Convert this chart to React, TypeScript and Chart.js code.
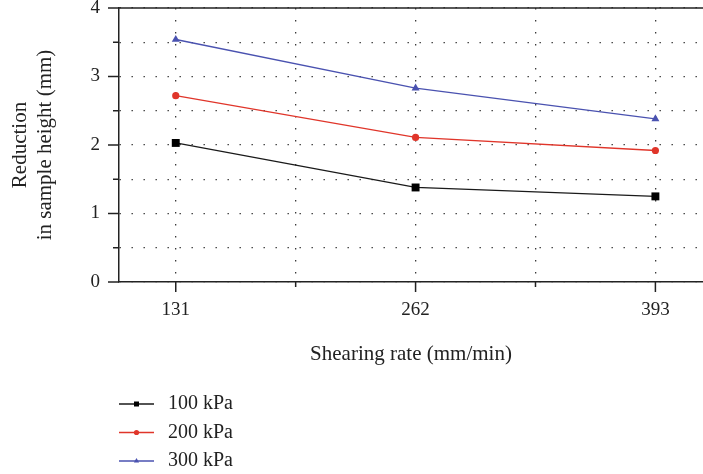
import React, { useEffect, useRef } from 'react';
import { Chart, registerables } from 'chart.js';

Chart.register(...registerables);

// ---- data ----
const shearRates = [131, 262, 393];
const load100 = [2.03, 1.38, 1.25];
const load200 = [2.72, 2.11, 1.92];
const load300 = [3.54, 2.83, 2.38];
const seriesLabels = ['100 kPa', '200 kPa', '300 kPa'];
const xTickValues = [131, 196.5, 262, 327.5, 393];
const xLabelValues = [131, 262, 393];

const FONT = '"Liberation Serif", "Times New Roman", serif';
const INK = '#222222';

const drawMarker = (ctx: CanvasRenderingContext2D, style: string, x: number, y: number, r: number) => {
  ctx.beginPath();
  if (style === 'rect') {
    ctx.rect(x - r, y - r, 2 * r, 2 * r);
  } else if (style === 'triangle') {
    ctx.moveTo(x, y - r * 1.15);
    ctx.lineTo(x + r, y + r * 0.6);
    ctx.lineTo(x - r, y + r * 0.6);
    ctx.closePath();
  } else {
    ctx.arc(x, y, r, 0, Math.PI * 2);
  }
  ctx.fill();
};

const decorPlugin = {
  id: 'decor',
  afterDraw(chart: any) {
    const ctx: CanvasRenderingContext2D = chart.ctx;
    const { left, right, top, bottom } = chart.chartArea;
    const xs = chart.scales.x;
    const ys = chart.scales.y;
    ctx.save();
    ctx.strokeStyle = INK;
    ctx.lineWidth = 1.5;
    ctx.setLineDash([]);
    // top frame line
    ctx.beginPath();
    ctx.moveTo(left, top);
    ctx.lineTo(right, top);
    ctx.stroke();
    // x tick marks (outward)
    xs.ticks.forEach((t: any) => {
      const px = xs.getPixelForValue(t.value);
      const len = xLabelValues.includes(t.value) ? 10 : 5;
      ctx.beginPath();
      ctx.moveTo(px, bottom);
      ctx.lineTo(px, bottom + len);
      ctx.stroke();
    });
    // y tick marks (outward)
    ys.ticks.forEach((t: any) => {
      const py = ys.getPixelForValue(t.value);
      const len = Number.isInteger(t.value) ? 11 : 6;
      ctx.beginPath();
      ctx.moveTo(left, py);
      ctx.lineTo(left - len, py);
      ctx.stroke();
    });
    // legend
    const lx0 = left;
    const lx1 = left + 35;
    const tx = left + 49;
    const y0 = 404;
    const dy = 28.5;
    chart.data.datasets.forEach((ds: any, i: number) => {
      const y = y0 + i * dy;
      ctx.strokeStyle = ds.borderColor;
      ctx.fillStyle = ds.backgroundColor;
      ctx.lineWidth = 1.3;
      ctx.beginPath();
      ctx.moveTo(lx0, y);
      ctx.lineTo(lx1, y);
      ctx.stroke();
      drawMarker(ctx, ds.pointStyle, (lx0 + lx1) / 2, y, ds.pointStyle === 'rect' ? 2.5 : 2.6);
      ctx.fillStyle = INK;
      ctx.font = `20px ${FONT}`;
      ctx.textAlign = 'left';
      ctx.textBaseline = 'middle';
      ctx.fillText(ds.label, tx, y);
    });
    ctx.restore();
  },
};

const toPoints = (ys: number[]) => shearRates.map((x, i) => ({ x, y: ys[i] }));

export default function App() {
  const ref = useRef<HTMLCanvasElement | null>(null);

  useEffect(() => {
    if (!ref.current) return;
    const gridCommon = {
      color: '#3a3a3a',
      lineWidth: 1.3,
      drawTicks: false,
    };
    const borderCommon = {
      display: true,
      color: INK,
      width: 1.5,
      dash: [1.4, 10.6],
    };
    const chart = new Chart(ref.current, {
      type: 'line',
      data: {
        datasets: [
          {
            label: seriesLabels[0],
            data: toPoints(load100),
            borderColor: '#1a1a1a',
            backgroundColor: '#000000',
            pointBorderColor: '#000000',
            pointStyle: 'rect',
            pointRadius: 5.6,
            pointBorderWidth: 0,
            borderWidth: 1.3,
          },
          {
            label: seriesLabels[1],
            data: toPoints(load200),
            borderColor: '#e0352a',
            backgroundColor: '#e0352a',
            pointBorderColor: '#e0352a',
            pointStyle: 'circle',
            pointRadius: 3.6,
            pointBorderWidth: 0,
            borderWidth: 1.3,
          },
          {
            label: seriesLabels[2],
            data: toPoints(load300),
            borderColor: '#4a52b0',
            backgroundColor: '#4a52b0',
            pointBorderColor: '#4a52b0',
            pointStyle: 'triangle',
            pointRadius: 4.6,
            pointBorderWidth: 0,
            borderWidth: 1.3,
          },
        ],
      },
      options: {
        responsive: false,
        animation: false,
        layout: { autoPadding: false, padding: { left: 0, right: 0, top: 8, bottom: 104 } },
        plugins: {
          legend: { display: false },
          tooltip: { enabled: false },
        },
        scales: {
          x: {
            type: 'linear',
            min: 100,
            max: 419,
            afterBuildTicks: (s: any) => {
              s.ticks = xTickValues.map((v) => ({ value: v }));
            },
            afterFit: (s: any) => {
              s.height = 88;
              s.paddingLeft = 0;
              s.paddingRight = 0;
            },
            ticks: {
              autoSkip: false,
              maxRotation: 0,
              padding: 17,
              color: INK,
              font: { family: FONT, size: 19 },
              callback: (v: any) => (xLabelValues.includes(Number(v)) ? String(v) : ''),
            },
            grid: gridCommon,
            border: borderCommon,
            title: {
              display: true,
              text: 'Shearing rate (mm/min)',
              color: INK,
              font: { family: FONT, size: 21, lineHeight: 1.2 },
              padding: { top: 0, bottom: 3 },
            },
          },
          y: {
            type: 'linear',
            min: 0,
            max: 4,
            afterFit: (s: any) => {
              s.width = 119;
              s.paddingTop = 0;
              s.paddingBottom = 0;
            },
            ticks: {
              stepSize: 0.5,
              padding: 19,
              color: INK,
              font: { family: FONT, size: 19 },
              callback: (v: any) => (Number.isInteger(Number(v)) ? String(v) : ''),
            },
            grid: gridCommon,
            border: borderCommon,
            title: {
              display: true,
              text: ['Reduction', 'in sample height (mm)'],
              color: INK,
              font: { family: FONT, size: 21, lineHeight: 1.19 },
              padding: { top: 7.5, bottom: 0 },
            },
          },
        },
      },
      plugins: [decorPlugin],
    } as any);
    return () => chart.destroy();
  }, []);

  return (
    <div style={{ position: 'fixed', left: 0, top: 0, width: 703, height: 474, background: '#fff' }}>
      <canvas ref={ref} width={703} height={474} style={{ display: 'block', width: 703, height: 474 }} />
    </div>
  );
}
